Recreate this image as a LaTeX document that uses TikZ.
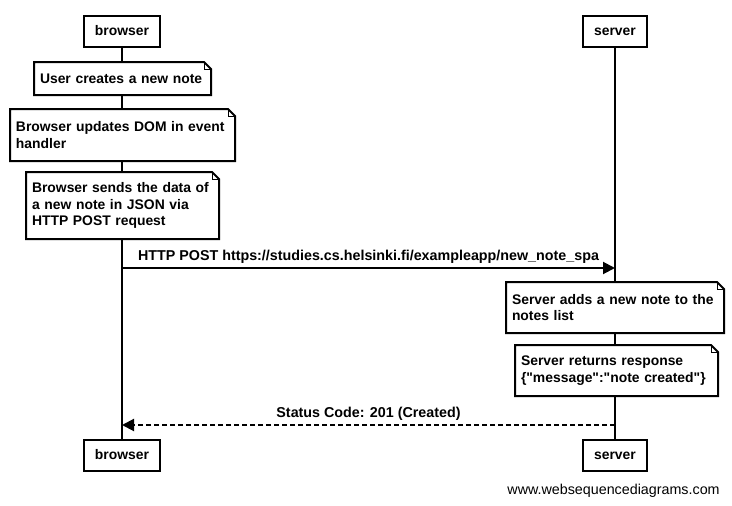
\documentclass[tikz,border=0pt]{standalone}
\usepackage{fontspec}
\setmainfont{Liberation Sans}
\usetikzlibrary{arrows.meta,backgrounds}

% outline of a note with a folded corner, drawn round a named node
\newcommand{\notefold}[1]{%
  \draw (#1.north west) -- ([xshift=-7pt]#1.north east) -- ([yshift=-7pt]#1.north east)
    -- (#1.south east) -- (#1.south west) -- cycle;
  \draw[line width=1pt] ([xshift=-7pt]#1.north east) |- ([yshift=-7pt]#1.north east);
}

\begin{document}
\begin{tikzpicture}[x=1pt, y=-1pt, line width=2pt,
    font=\bfseries\fontsize{13.9}{16.5}\selectfont,
    actor/.style={draw, fill=white, inner xsep=11pt, minimum height=31pt, text height=10pt, text depth=3pt},
    lifeline/.style={line width=2pt},
    notebox/.style={fill=white, anchor=north west, align=left, inner xsep=5pt, text width=#1},
    msg/.style={-{Triangle[length=12pt,width=12pt]}},
    msglabel/.style={above, font=\bfseries\fontsize{14.3}{16.5}\selectfont},
    reply/.style={msg, dash pattern=on 5pt off 3pt}]
        \useasboundingbox (0,0) rectangle (732,506);
        % participants
        \node[actor] (b1) at (122,31.5) {browser};
        \node[actor] (s1) at (615,31.5) {server};
        \node[actor] (b2) at (122,455.5) {browser};
        \node[actor] (s2) at (615,455.5) {server};
        \begin{scope}[on background layer]
            \fill[white] (0,0) rectangle (732,506);
            \draw[lifeline] (b1) -- (b2);
            \draw[lifeline] (s1) -- (s2);
        \end{scope}
        % notes
        \node[notebox=165pt, minimum height=31pt] (n1) at (34,62) {User creates a new note};
        \notefold{n1}
        \node[notebox=213pt, minimum height=50pt] (n2) at (10,109) {Browser updates DOM in event\\handler};
        \notefold{n2}
        \node[notebox=181pt, minimum height=65pt] (n3) at (26,172) {Browser sends the data of\\a new note in JSON via\\HTTP POST request};
        \notefold{n3}
        \node[notebox=206pt, minimum height=49pt] (n4) at (506,282) {Server adds a new note to the\\notes list};
        \notefold{n4}
        \node[notebox=191pt, minimum height=49pt] (n5) at (515,345) {Server returns response\\\{\textquotedbl message\textquotedbl:\textquotedbl note created\textquotedbl\}};
        \notefold{n5}
        % messages
        \coordinate (post b) at (122,268);
        \coordinate (post s) at (615,268);
        \draw[msg] (post b) -- node[msglabel] {HTTP POST https://studies.cs.helsinki.fi/exampleapp/new\_note\_spa} (post s);
        \coordinate (resp s) at (615,425);
        \coordinate (resp b) at (122,425);
        \draw[reply] (resp s) -- node[msglabel] {Status Code: 201 (Created)} (resp b);
        \node[anchor=east, font=\mdseries\fontsize{14.3}{16}\selectfont] (credit) at (724,491) {www.websequencediagrams.com};
    \end{tikzpicture}
\end{document}
